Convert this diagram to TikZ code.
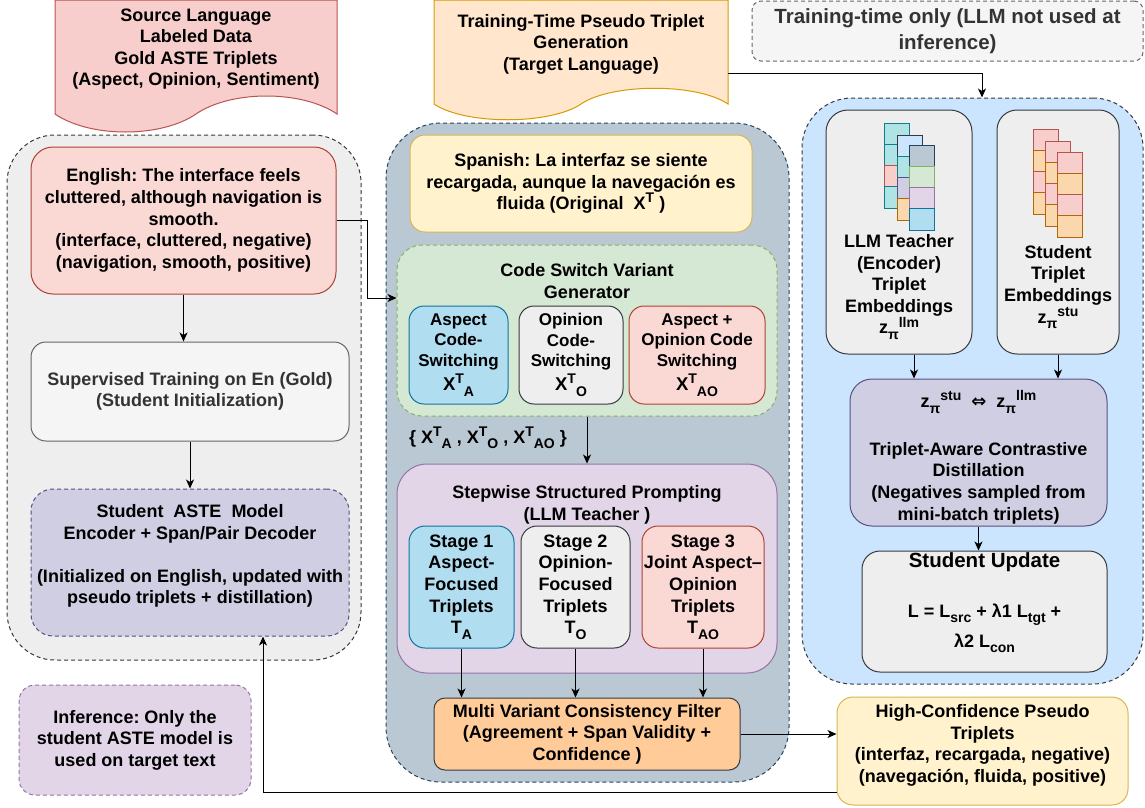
\documentclass[tikz,border=0pt]{standalone}
\usepackage{fontspec}
\setmainfont{Liberation Sans}
\newfontfamily\djv{DejaVu Sans}
\usetikzlibrary{arrows.meta}
\definecolor{srcF}{HTML}{F8CECC}\definecolor{srcD}{HTML}{B85450}
\definecolor{engF}{HTML}{FAD9D5}\definecolor{engD}{HTML}{AE4132}
\definecolor{gF}{HTML}{EEEEEE}\definecolor{gD}{HTML}{36393D}
\definecolor{wF}{HTML}{F5F5F5}\definecolor{wD}{HTML}{666666}\definecolor{wT}{HTML}{333333}
\definecolor{pF}{HTML}{D0CEE2}\definecolor{pD}{HTML}{56517E}
\definecolor{lF}{HTML}{E1D5E7}\definecolor{lD}{HTML}{9673A6}
\definecolor{oF}{HTML}{FFE6CC}\definecolor{oD}{HTML}{D79B00}
\definecolor{sF}{HTML}{BAC8D3}\definecolor{sD}{HTML}{23445D}
\definecolor{yF}{HTML}{FFF2CC}\definecolor{yD}{HTML}{D6B656}
\definecolor{grF}{HTML}{D5E8D4}\definecolor{grD}{HTML}{82B366}
\definecolor{bF}{HTML}{B1DDF0}\definecolor{bD}{HTML}{10739E}
\definecolor{fF}{HTML}{FFCC99}
\definecolor{lbF}{HTML}{CCE5FF}
\definecolor{tF}{HTML}{B0E3E6}\definecolor{tD}{HTML}{0E8088}
\definecolor{orF}{HTML}{FAD7AC}\definecolor{orD}{HTML}{B46504}
\frenchspacing
\newcommand\SUP[1]{\raisebox{0.38em}{\fontsize{14}{14}\selectfont #1}}
\newcommand\SUB[1]{\raisebox{-0.3em}{\fontsize{14}{14}\selectfont #1}}
\newcommand\embcell[4]{\filldraw[fill=#3, draw=#4, line width=1pt] (#1,#2) rectangle ++(25,21.3);}
\tikzset{
  box/.style={draw, line width=1pt, align=center, inner sep=0pt, font=\fontsize{18}{21.6}\selectfont\bfseries},
  txt/.style={align=center, inner sep=0pt, font=\fontsize{18}{21.6}\selectfont\bfseries},
  small/.style={font=\fontsize{17}{20.4}\selectfont\bfseries},
  dsh/.style={dash pattern=on 4pt off 3pt},
  arr/.style={-{Stealth[length=9pt,width=8pt,inset=2.5pt]}, line width=1pt},
}
\begin{document}
\begin{tikzpicture}[x=1pt,y=-1pt]
\useasboundingbox (0,0) rectangle (1145,807);

% ---------- documents ----------
\node[minimum width=282, minimum height=114, inner sep=0] (srcdoc) at (196,57) {};
\filldraw[fill=srcF, draw=srcD, line width=1pt] (55,0) -- (337,0) -- (337,114) .. controls (302,90) and (231,90) .. (196,114) .. controls (161,138) and (90,138) .. (55,114) -- cycle;
\node[txt] (srcT) at (196,49) {Source Language\\Labeled Data\\Gold ASTE Triplets\\(Aspect, Opinion, Sentiment)};

\node[minimum width=294, minimum height=104, inner sep=0] (tdoc) at (581,52) {};
\filldraw[fill=oF, draw=oD, line width=1pt] (434,0) -- (728,0) -- (728,104) .. controls (697,83) and (612,83) .. (581,104) .. controls (550,125) and (465,125) .. (434,104) -- cycle;
\node[txt] (tdocT) at (581,44) {Training-Time Pseudo Triplet\\Generation\\(Target Language)};

\node[box, dsh, fill=wF, draw=wD, rounded corners=9pt, minimum width=391, minimum height=60, text=wT, font=\fontsize{20.5}{25.5}\selectfont\bfseries] (tt) at (947.5,31) {Training-time only (LLM not used at\\inference)};

% ---------- containers ----------
\node[box, dsh, fill=gF, draw=gD, rounded corners=48pt, minimum width=354, minimum height=525] (lc) at (184,397.5) {};
\node[box, dsh, fill=sF, draw=sD, rounded corners=55pt, minimum width=403, minimum height=659] (mid) at (587.5,452.5) {};
\node[box, dsh, fill=lbF, draw=gD, rounded corners=50pt, minimum width=341, minimum height=586] (blue) at (972.5,391) {};

% ---------- left column ----------
\node[box, fill=engF, draw=engD, rounded corners=22pt, minimum width=305, minimum height=147] (eng) at (183.5,220.5) {English: The interface feels\\cluttered, although navigation is\\smooth.\\ (interface, cluttered, negative)\\(navigation, smooth, positive)};
\node[box, fill=wF, draw=wD, text=wT, rounded corners=15pt, minimum width=318, minimum height=99] (sup) at (190,391.5) {Supervised Training on En (Gold)\\(Student Initialization)};
\node[box, dsh, fill=pF, draw=pD, rounded corners=22pt, minimum width=318, minimum height=147] (stu) at (190,562.5) {};
\node[txt] (stuT) at (190,556) {Student\ \ ASTE\ \ Model\\Encoder + Span/Pair Decoder\\[21.6pt](Initialized on English, updated with\\pseudo triplets + distillation)};
\node[box, dsh, fill=lF, draw=lD, rounded corners=16pt, minimum width=232, minimum height=110] (inf) at (135,740) {Inference: Only the\\student ASTE model is\\used on target text};

% ---------- middle column ----------
\node[box, fill=yF, draw=yD, rounded corners=15pt, minimum width=342, minimum height=97] (spa) at (581,183.5) {Spanish: La interfaz se siente\\recargada, aunque la navegación es\\fluida (Original\ \ X\SUP{T} )};
\node[box, dsh, fill=grF, draw=grD, rounded corners=25pt, minimum width=380, minimum height=171] (cs) at (587,330.5) {};
\node[txt] (csT) at (587,281) {Code Switch Variant\\Generator};
\node[box, small, fill=bF, draw=bD, rounded corners=15pt, minimum width=99, minimum height=98] (asp) at (458.5,355) {Aspect\\Code-\\Switching\\[4pt]{\fontsize{18.5}{20}\selectfont X\SUP{T}\SUB{A}}};
\node[box, small, fill=gF, draw=gD, rounded corners=15pt, minimum width=104, minimum height=98] (opi) at (571,355) {Opinion\\Code-\\Switching\\[4pt]{\fontsize{18.5}{20}\selectfont X\SUP{T}\SUB{O}}};
\node[box, small, fill=engF, draw=engD, rounded corners=15pt, minimum width=136, minimum height=98] (ao) at (697,355) {Aspect +\\Opinion Code\\Switching\\[4pt]{\fontsize{18.5}{20}\selectfont X\SUP{T}\SUB{AO}}};
\node[txt] (setT) at (488,438) {\{ X\SUP{T}\SUB{A} , X\SUP{T}\SUB{O} , X\SUP{T}\SUB{AO} \}};

\node[box, fill=lF, draw=lD, rounded corners=30pt, minimum width=380, minimum height=209] (pr) at (587,568.5) {};
\node[txt] (prT) at (587,505) {Stepwise Structured Prompting\\(LLM Teacher )};
\node[box, fill=bF, draw=bD, rounded corners=16pt, minimum width=105, minimum height=122] (s1) at (461.5,587) {Stage 1\\Aspect-\\Focused\\Triplets\\T\SUB{A}};
\node[box, fill=gF, draw=gD, rounded corners=16pt, minimum width=109, minimum height=122] (s2) at (575.5,587) {Stage 2\\Opinion-\\Focused\\Triplets\\T\SUB{O}};
\node[box, fill=engF, draw=engD, rounded corners=16pt, minimum width=122, minimum height=122] (s3) at (703,587) {Stage 3\\Joint Aspect–\\Opinion\\Triplets\\T\SUB{AO}};
\node[box, fill=fF, draw=gD, rounded corners=11pt, minimum width=306, minimum height=72] (flt) at (587,734) {Multi Variant Consistency Filter\\(Agreement + Span Validity +\\Confidence )};

\node[box, fill=yF, draw=yD, rounded corners=16pt, minimum width=291, minimum height=108] (hc) at (982.5,751) {};
\node[txt] (hcT) at (982.5,745.5) {High-Confidence Pseudo\\Triplets\\(interfaz, recargada, negative)\\(navegación, fluida, positive)};

% ---------- right column ----------
\node[box, fill=gF, draw=gD, rounded corners=22pt, minimum width=146, minimum height=244] (llm) at (899,232) {};
\node[box, fill=gF, draw=gD, rounded corners=20pt, minimum width=122, minimum height=244] (semb) at (1058,232) {};
% teacher embedding icon
\embcell{884}{123}{tF}{tD}\embcell{884}{144.3}{tF}{tD}\embcell{884}{165.6}{srcF}{srcD}\embcell{884}{186.9}{tF}{tD}
\embcell{897}{135}{lbF}{gD}\embcell{897}{156.3}{tF}{tD}\embcell{897}{177.6}{pF}{pD}\embcell{897}{198.9}{orF}{orD}
\embcell{909}{145}{sF}{sD}\embcell{909}{166.3}{grF}{grD}\embcell{909}{187.6}{lF}{lD}\embcell{909}{208.9}{bF}{bD}
% student embedding icon
\embcell{1033}{129}{srcF}{srcD}\embcell{1033}{150.3}{orF}{orD}\embcell{1033}{171.6}{srcF}{srcD}\embcell{1033}{192.9}{orF}{orD}
\embcell{1045}{141}{srcF}{srcD}\embcell{1045}{162.3}{orF}{orD}\embcell{1045}{183.6}{srcF}{srcD}\embcell{1045}{204.9}{orF}{orD}
\embcell{1057}{152}{srcF}{srcD}\embcell{1057}{173.3}{orF}{orD}\embcell{1057}{194.6}{srcF}{srcD}\embcell{1057}{215.9}{orF}{orD}
\node[txt] (llmT) at (899,287) {LLM Teacher\\(Encoder)\\Triplet\\Embeddings\\z\SUB{π}\SUP{llm}};
\node[txt] (sembT) at (1058,287) {Student\\Triplet\\Embeddings\\z\SUB{π}\SUP{stu}};

\node[box, fill=pF, draw=pD, rounded corners=22pt, minimum width=257, minimum height=147] (con) at (978.5,452.5) {};
\node[txt] (conT1) at (978.5,402) {z\SUB{π}\SUP{stu}\ \ {\djv\bfseries ⇔}\ \ z\SUB{π}\SUP{llm}};
\node[txt] (conT2) at (978.5,483) {Triplet-Aware Contrastive\\Distillation\\(Negatives sampled from\\mini-batch triplets)};

\node[box, fill=gF, draw=gD, rounded corners=18pt, minimum width=245, minimum height=121] (upd) at (984.5,611.5) {};
\node[txt, font=\fontsize{20.5}{24}\selectfont\bfseries] (updT1) at (984.5,562) {Student Update};
\node[txt, font=\fontsize{18}{30}\selectfont\bfseries] (updT2) at (984.5,628) {L = L\SUB{src} + λ1 L\SUB{tgt} +\\λ2 L\SUB{con}};

% ---------- connectors ----------
\coordinate (k1) at (367,298);
\coordinate (k2) at (982,73);
\coordinate (k3) at (263,792);
\coordinate (k4) at (914,0);
\draw[arr] (eng.south) -- (sup.north -| eng.south);
\draw[arr] (sup.south) -- (stu.north);
\draw[arr] (eng.east) -| (k1) -- (cs.west |- k1);
\draw[arr] (tdoc.east |- k2) -- (k2) -- (blue.north -| k2);
\draw[arr] (llm.south -| k4) -- (con.north -| k4);
\draw[arr] (semb.south) -- (con.north -| semb.south);
\draw[arr] (con.south) -- (upd.north -| con.south);
\draw[arr] (cs.south) -- (pr.north);
\draw[arr] (s1.south) -- (flt.north -| s1.south);
\draw[arr] (s2.south) -- (flt.north -| s2.south);
\draw[arr] (s3.south) -- (flt.north -| s3.south);
\draw[arr] (flt.east) -- (hc.west |- flt.east);
\draw[arr] (hc.west |- k3) -- (k3) -- (stu.south -| k3);
\end{tikzpicture}
\end{document}
